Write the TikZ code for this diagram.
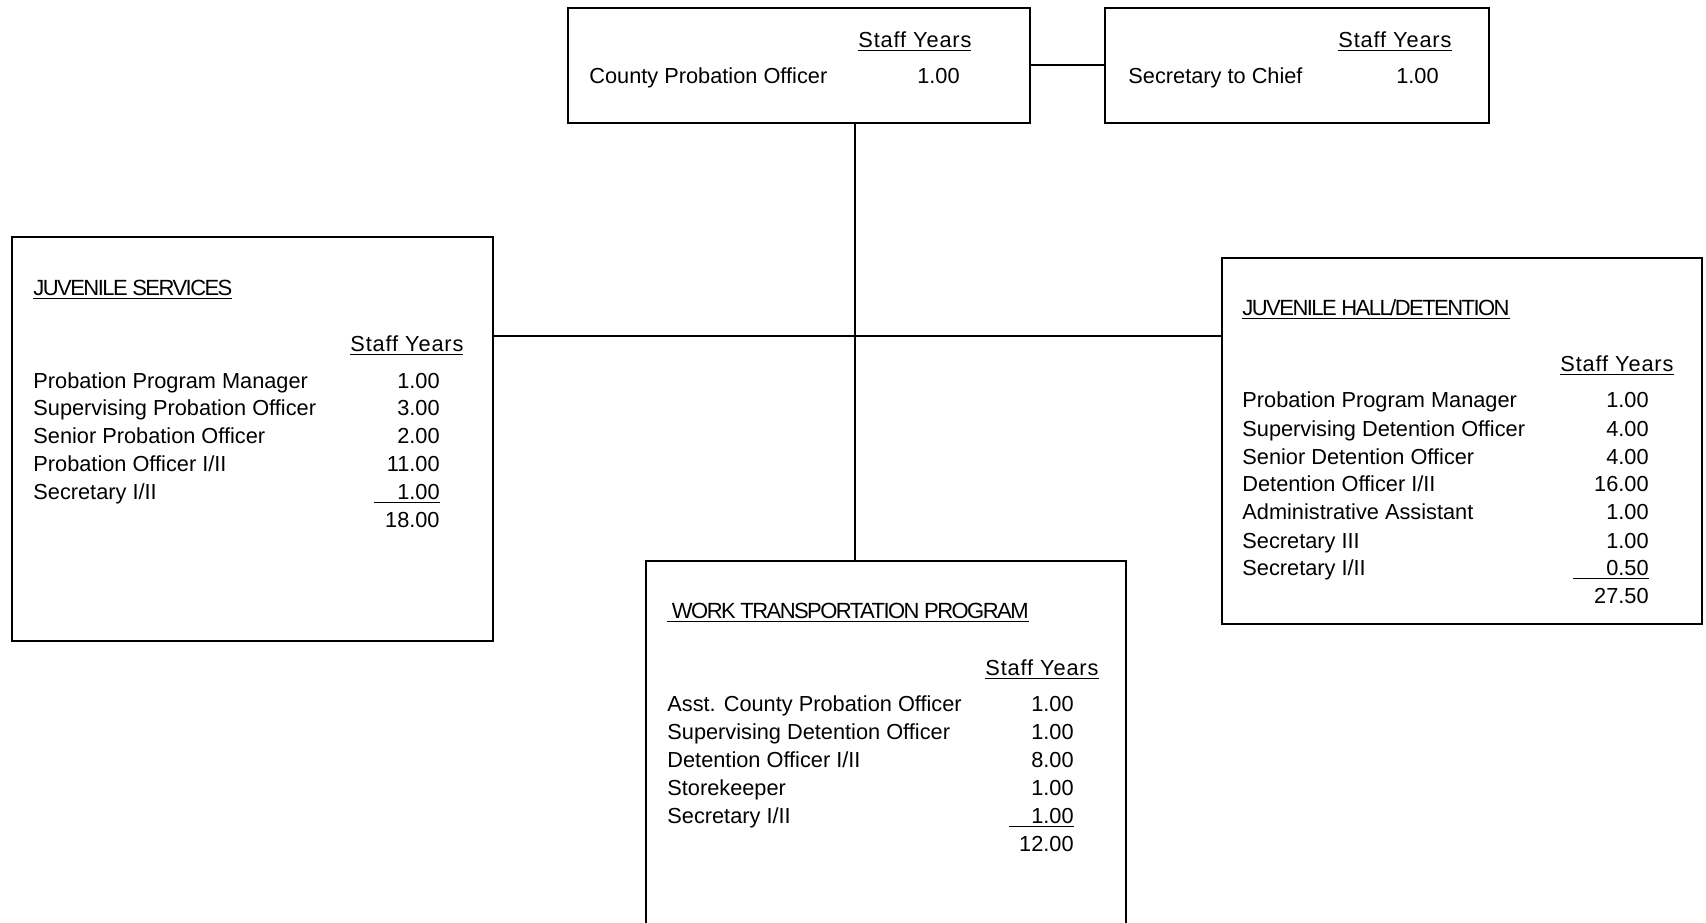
\documentclass[tikz,border=0pt]{standalone}
\usepackage{fontspec}
\setmainfont{Liberation Sans}
\newfontfamily\hdrfont[LetterSpace=-7]{Liberation Sans}
\newfontfamily\syfont[LetterSpace=4]{Liberation Sans}
\begin{document}
\begin{tikzpicture}[x=0.5pt,y=-0.5pt,
  font=\fontsize{10.88}{12}\selectfont,
  box/.style={draw,line width=1pt,inner sep=0pt,anchor=north west},
  conn/.style={line width=0.9pt},
  lbl/.style={anchor=base west,inner sep=0pt},
  num/.style={anchor=base east,inner sep=0pt},
  sy/.style={anchor=base west,inner sep=0pt,font=\fontsize{10.88}{12}\selectfont\syfont},
  hdr/.style={anchor=base west,inner sep=0pt,font=\fontsize{11}{12}\selectfont\hdrfont}]
\useasboundingbox (0,0) rectangle (1706,922);
\clip (0,0) rectangle (1706,922);
% boxes
\node[box,minimum width=231pt,minimum height=57.75pt] (cpo) at (567,6.5) {};
\node[box,minimum width=192pt,minimum height=57.75pt] (sec) at (1104,6.5) {};
\node[box,minimum width=240.5pt,minimum height=202pt] (js) at (11,236) {};
\node[box,minimum width=240pt,minimum height=183pt] (jh) at (1221,257) {};
\node[box,minimum width=240pt,minimum height=200pt] (wtp) at (645,560) {};
\coordinate (hub) at (855,336);
% connectors
\draw[conn] (cpo.east) -- (sec.west);
\draw[conn] (hub |- cpo.south) -- (hub |- wtp.north);
\draw[conn] (js.east |- hub) -- (jh.west |- hub);
% top boxes
\node[sy] (cpoh) at (858,47) {\underline{Staff Years}};
\node[lbl] (cpon) at (589,83) {County Probation Officer};
\node[num] (cpov) at (960,83) {1.00};
\node[sy] (sech) at (1338,47) {\underline{Staff Years}};
\node[lbl] (secn) at (1128,83) {Secretary to Chief};
\node[num] (secv) at (1439,83) {1.00};
% juvenile services
\node[hdr] (jst) at (33,295) {\underline{JUVENILE SERVICES}};
\node[sy] (jsh) at (350,351) {\underline{Staff Years}};
\node[lbl] (js1) at (33,388) {Probation Program Manager};
\node[num] (js1v) at (440,388) {1.00};
\node[lbl] (js2) at (33,415) {Supervising Probation Officer};
\node[num] (js2v) at (440,415) {3.00};
\node[lbl] (js3) at (33,443) {Senior Probation Officer};
\node[num] (js3v) at (440,443) {2.00};
\node[lbl] (js4) at (33,471) {Probation Officer I/II};
\node[num] (js4v) at (440,471) {11.00};
\node[lbl] (js5) at (33,499) {Secretary I/II};
\node[num] (js5v) at (440,499) {\underline{\makebox[33pt][r]{1.00}}};
\node[num] (jstot) at (440,527) {18.00};
% juvenile hall
\node[hdr] (jht) at (1242,315) {\underline{JUVENILE HALL/DETENTION}};
\node[sy] (jhh) at (1560,371) {\underline{Staff Years}};
\node[lbl] (jh1) at (1242,407) {Probation Program Manager};
\node[num] (jh1v) at (1649,407) {1.00};
\node[lbl] (jh2) at (1242,436) {Supervising Detention Officer};
\node[num] (jh2v) at (1649,436) {4.00};
\node[lbl] (jh3) at (1242,464) {Senior Detention Officer};
\node[num] (jh3v) at (1649,464) {4.00};
\node[lbl] (jh4) at (1242,491) {Detention Officer I/II};
\node[num] (jh4v) at (1649,491) {16.00};
\node[lbl] (jh5) at (1242,519) {Administrative Assistant};
\node[num] (jh5v) at (1649,519) {1.00};
\node[lbl] (jh6) at (1242,548) {Secretary III};
\node[num] (jh6v) at (1649,548) {1.00};
\node[lbl] (jh7) at (1242,575) {Secretary I/II};
\node[num] (jh7v) at (1649,575) {\underline{\makebox[38pt][r]{0.50}}};
\node[num] (jhtot) at (1649,603) {27.50};
% work transportation
\node[hdr] (wtt) at (667,618) {\underline{\ WORK TRANSPORTATION PROGRAM}};
\node[sy] (wth) at (985,675) {\underline{Staff Years}};
\node[lbl] (wt1) at (667,711) {Asst. County Probation Officer};
\node[num] (wt1v) at (1074,711) {1.00};
\node[lbl] (wt2) at (667,739) {Supervising Detention Officer};
\node[num] (wt2v) at (1074,739) {1.00};
\node[lbl] (wt3) at (667,767) {Detention Officer I/II};
\node[num] (wt3v) at (1074,767) {8.00};
\node[lbl] (wt4) at (667,795) {Storekeeper};
\node[num] (wt4v) at (1074,795) {1.00};
\node[lbl] (wt5) at (667,823) {Secretary I/II};
\node[num] (wt5v) at (1074,823) {\underline{\makebox[32.5pt][r]{1.00}}};
\node[num] (wttot) at (1074,851) {12.00};
\end{tikzpicture}
\end{document}
